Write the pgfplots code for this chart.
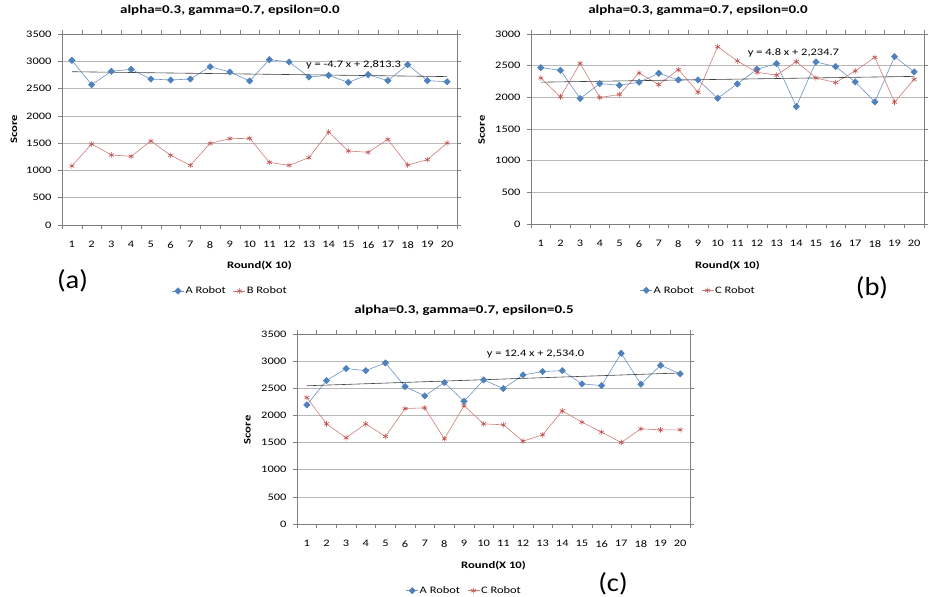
\documentclass[border=0pt]{standalone}
\usepackage{fontspec}
\setmainfont{Carlito}[FakeStretch=1.25]
\newfontfamily\bfont{Carlito Bold}
\newfontfamily\labfont{Carlito}[FakeStretch=1.1]
\usepackage{graphicx}
\usepackage{pgfplots}
\usepackage{pgfplotstable}
\pgfplotsset{compat=1.18}
\definecolor{ablue}{HTML}{4F81BD}
\definecolor{cred}{HTML}{C0504D}
\newcommand\wt[1]{\scalebox{1.25}[1]{#1}}
\newcommand\wl[1]{\scalebox{1.27}[1]{#1}}

\pgfplotstableread{
x a b
1 3017 1081
2 2571 1484
3 2816 1283
4 2852 1258
5 2675 1539
6 2657 1277
7 2675 1093
8 2901 1497
9 2804 1582
10 2639 1588
11 3030 1148
12 2987 1093
13 2712 1234
14 2742 1704
15 2614 1356
16 2755 1332
17 2645 1570
18 2938 1099
19 2645 1197
20 2626 1503
}\tabA

\pgfplotstableread{
x a c
1 2469 2306
2 2427 2007
3 1981 2538
4 2217 1997
5 2191 2044
6 2238 2385
7 2380 2201
8 2275 2438
9 2275 2080
10 1986 2800
11 2212 2574
12 2443 2396
13 2532 2349
14 1855 2564
15 2559 2306
16 2485 2233
17 2243 2417
18 1928 2632
19 2643 1923
20 2401 2285
}\tabB

\pgfplotstableread{
x a c
1 2194 2329
2 2642 1845
3 2863 1588
4 2826 1845
5 2967 1612
6 2532 2127
7 2360 2139
8 2605 1569
9 2260 2180
10 2654 1845
11 2495 1827
12 2746 1526
13 2808 1643
14 2826 2084
15 2581 1876
16 2550 1692
17 3145 1502
18 2575 1753
19 2924 1735
20 2765 1735
}\tabC

\pgfplotsset{
  panel/.style={
    scale only axis,
    anchor=south west,
    xmin=0.5, xmax=20.5,
    ymin=0,
    xtick={0.5,1.5,...,20.5},
    xticklabels={},
    extra x ticks={1,...,20},
    extra x tick labels={1,2,3,4,5,6,7,8,9,10,11,12,13,14,15,16,17,18,19,20},
    extra x tick style={major tick length=0pt},
    xticklabel style={yshift=-13bp},
    yticklabel style={xshift=-3bp},
    tick align=outside,
    major tick length=4bp,
    tick style={black!50, line width=0.5pt},
    axis line style={black!50, line width=0.6pt},
    ymajorgrids,
    grid style={black!28, line width=0.6pt},
    /pgf/number format/assume math mode=true,
    /pgf/number format/1000 sep={},
    ticklabel style={font=\fontsize{10}{12}\selectfont},
    xlabel={\wl{Round(X 10)}},
    ylabel={\wl{Score}},
    xlabel style={font=\bfont\fontsize{10}{12}\selectfont, anchor=center},
    ylabel style={font=\bfont\fontsize{10}{12}\selectfont, anchor=center},
    title style={font=\bfont\fontsize{12}{14}\selectfont, anchor=base, at={(axis description cs:0.425,1)}, yshift=15bp},
    legend columns=2,
    legend style={draw=none, fill=none, font=\fontsize{10}{12}\selectfont, anchor=center,
      nodes={inner sep=1.2bp},
      /tikz/every even column/.append style={column sep=6bp}},
    legend image code/.code={\draw[mark repeat=2,mark phase=2] plot coordinates {(0bp,0bp)(6bp,0bp)(12bp,0bp)};},
  },
  aser/.style={color=ablue!85, line width=0.6pt, mark=square*, mark size=2.2bp,
    mark options={rotate=45, fill=ablue, draw=ablue, solid}},
  cser/.style={color=cred!75, line width=0.6pt, mark=asterisk, mark size=2.8bp,
    mark options={draw=cred, solid, line width=0.6pt}},
  tser/.style={black!75, line width=0.6pt, no marks, forget plot},
}

\begin{document}
\begin{tikzpicture}
\path[use as bounding box] (0,0) rectangle (929bp,597bp);

% (a)
\begin{axis}[panel, at={(62bp,372bp)}, width=395bp, height=191bp,
  ymax=3500, ytick={0,500,...,3500},
  title={\wt{alpha=0.3, gamma=0.7, epsilon=0.0}},
  xlabel style={at={(axis description cs:0.5,-0.2147)}},
  ylabel style={at={(axis description cs:-0.1215,0.5)}},
  legend style={at={(0.425,-0.3455)}}]
\addplot[aser] table[x=x, y=a] {\tabA};
\addlegendentry{A Robot}
\addplot[cser] table[x=x, y=b] {\tabA};
\addlegendentry{B Robot}
\addplot[tser] coordinates {(1,2808.6) (20,2719.3)};
\node[anchor=west, inner sep=0pt, font=\fontsize{10}{12}\selectfont] at (axis cs:12.85,2932) {y = -4.7 x + 2,813.3};
\end{axis}

% (b)
\begin{axis}[panel, at={(531bp,373bp)}, width=393bp, height=190bp,
  ymax=3000, ytick={0,500,...,3000},
  title={\wt{alpha=0.3, gamma=0.7, epsilon=0.0}},
  xlabel style={at={(axis description cs:0.5,-0.221)}},
  ylabel style={at={(axis description cs:-0.1255,0.495)}},
  legend style={at={(0.425,-0.349)}}]
\addplot[aser] table[x=x, y=a] {\tabB};
\addlegendentry{A Robot}
\addplot[cser] table[x=x, y=c] {\tabB};
\addlegendentry{C Robot}
\addplot[tser] coordinates {(1,2239.5) (20,2330.7)};
\node[anchor=west, inner sep=0pt, font=\fontsize{10}{12}\selectfont] at (axis cs:11.53,2705) {y = 4.8 x + 2,234.7};
\end{axis}

% (c)
\begin{axis}[panel, at={(297bp,73bp)}, width=393bp, height=190bp,
  ymax=3500, ytick={0,500,...,3500},
  title={\wt{alpha=0.3, gamma=0.7, epsilon=0.5}},
  xlabel style={at={(axis description cs:0.5,-0.2195)}},
  ylabel style={at={(axis description cs:-0.126,0.495)}},
  legend style={at={(0.425,-0.351)}}]
\addplot[aser] table[x=x, y=a] {\tabC};
\addlegendentry{A Robot}
\addplot[cser] table[x=x, y=c] {\tabC};
\addlegendentry{C Robot}
\addplot[tser] coordinates {(1,2546.4) (20,2782.0)};
\node[anchor=west, inner sep=0pt, font=\fontsize{10}{12}\selectfont] at (axis cs:10.15,3126) {y = 12.4 x + 2,534.0};
\end{axis}

\node[font=\labfont\fontsize{26}{30}\selectfont, inner sep=0pt] at (72.5bp,316bp) {(a)};
\node[font=\labfont\fontsize{26}{30}\selectfont, inner sep=0pt] at (872bp,309bp) {(b)};
\node[font=\labfont\fontsize{26}{30}\selectfont, inner sep=0pt] at (613bp,13bp) {(c)};
\end{tikzpicture}
\end{document}
